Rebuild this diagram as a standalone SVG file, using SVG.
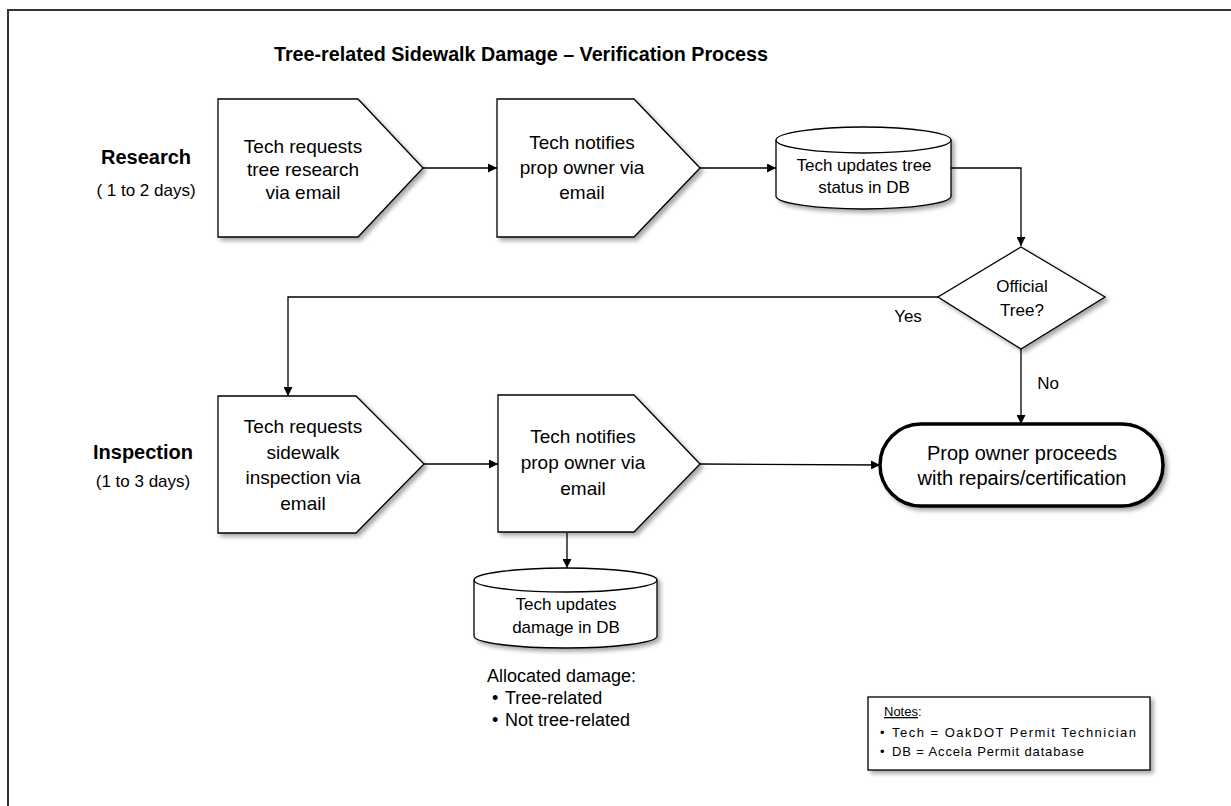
<svg xmlns="http://www.w3.org/2000/svg" width="1231" height="806" viewBox="0 0 1231 806">
<defs>
<style>
.t{font-family:"Liberation Sans",Arial,sans-serif;fill:#000;}
.box{fill:#fff;stroke:#000;stroke-width:1.3;filter:url(#sh);}
.ln{fill:none;stroke:#000;stroke-width:1.3;}
.b18{font-size:19px;text-anchor:middle;}
.c16{font-size:17px;text-anchor:middle;}
.nt{font-size:13px;}
</style>
<filter id="sh" x="-10%" y="-10%" width="130%" height="130%">
<feDropShadow dx="3" dy="3" stdDeviation="2" flood-color="#000" flood-opacity="0.35"/>
</filter>
<marker id="ah" viewBox="0 0 10 10" refX="10" refY="5" markerWidth="9" markerHeight="9" markerUnits="userSpaceOnUse" orient="auto">
<path d="M0,0 L10,5 L0,10 z" fill="#000"/>
</marker>
</defs>
<rect width="1231" height="806" fill="#fff"/>
<path d="M8,806 V10 H1231" fill="none" stroke="#333" stroke-width="2"/>

<text class="t" x="521" y="61" font-size="21" font-weight="bold" text-anchor="middle" textLength="494" lengthAdjust="spacingAndGlyphs">Tree-related Sidewalk Damage – Verification Process</text>

<g id="lane-research">
<text class="t" x="146" y="164" font-size="20" font-weight="bold" text-anchor="middle">Research</text>
<text class="t" x="146" y="196" font-size="17" text-anchor="middle">( 1 to 2 days)</text>
</g>
<g id="lane-inspection">
<text class="t" x="143" y="459" font-size="20" font-weight="bold" text-anchor="middle">Inspection</text>
<text class="t" x="143" y="487" font-size="17" text-anchor="middle">(1 to 3 days)</text>
</g>

<g id="connectors">
<line class="ln" x1="423" y1="168" x2="497" y2="168" marker-end="url(#ah)"/>
<line class="ln" x1="700" y1="168" x2="776" y2="168" marker-end="url(#ah)"/>
<polyline class="ln" points="951,168 1021,168 1021,246" marker-end="url(#ah)"/>
<polyline class="ln" points="938,297 288,297 288,396" marker-end="url(#ah)"/>
<line class="ln" x1="1021" y1="349" x2="1021" y2="424" marker-end="url(#ah)"/>
<line class="ln" x1="424" y1="464" x2="498" y2="464" marker-end="url(#ah)"/>
<line class="ln" x1="700" y1="464" x2="880" y2="465" marker-end="url(#ah)"/>
<line class="ln" x1="567" y1="533" x2="567" y2="568" marker-end="url(#ah)"/>
<text class="t" x="908" y="322" font-size="17" text-anchor="middle">Yes</text>
<text class="t" x="1048" y="389" font-size="17" text-anchor="middle">No</text>
</g>

<g id="n1">
<path class="box" d="M218,99 H358 L423,168 L358,237 H218 Z"/>
<text class="t b18" x="303" y="153">Tech requests</text>
<text class="t b18" x="303" y="176">tree research</text>
<text class="t b18" x="303" y="199">via email</text>
</g>

<g id="n2">
<path class="box" d="M497,99 H634 L700,168 L634,237 H497 Z"/>
<text class="t b18" x="582" y="149">Tech notifies</text>
<text class="t b18" x="582" y="174">prop owner via</text>
<text class="t b18" x="582" y="199">email</text>
</g>

<g id="n3">
<path class="box" d="M776,140 A87.5,13 0 0 1 951,140 V196 A87.5,13 0 0 1 776,196 Z"/>
<path class="ln" d="M776,140 A87.5,13 0 0 0 951,140"/>
<text class="t c16" x="864" y="171">Tech updates tree</text>
<text class="t c16" x="864" y="193">status in DB</text>
</g>

<g id="n4">
<path class="box" d="M1021,247 L1105,297 L1021,349 L938,297 Z"/>
<text class="t c16" x="1022" y="292">Official</text>
<text class="t c16" x="1022" y="316">Tree?</text>
</g>

<g id="n5">
<path class="box" d="M218,396 H356 L424,464 L356,533 H218 Z"/>
<text class="t b18" x="303" y="433">Tech requests</text>
<text class="t b18" x="303" y="459">sidewalk</text>
<text class="t b18" x="303" y="484">inspection via</text>
<text class="t b18" x="303" y="510">email</text>
</g>

<g id="n6">
<path class="box" d="M498,395 H634 L700,464 L634,532 H498 Z"/>
<text class="t b18" x="583" y="443">Tech notifies</text>
<text class="t b18" x="583" y="469">prop owner via</text>
<text class="t b18" x="583" y="495">email</text>
</g>

<g id="n7">
<rect x="880" y="424" width="283" height="82" rx="41" ry="41" fill="#fff" stroke="#000" stroke-width="3.5" filter="url(#sh)"/>
<text class="t" x="1022" y="460" font-size="20" text-anchor="middle">Prop owner proceeds</text>
<text class="t" x="1022" y="485" font-size="20" text-anchor="middle">with repairs/certification</text>
</g>

<g id="n8">
<path class="box" d="M474,580 A91.5,12 0 0 1 657,580 V636 A91.5,12 0 0 1 474,636 Z"/>
<path class="ln" d="M474,580 A91.5,12 0 0 0 657,580"/>
<text class="t c16" x="566" y="610">Tech updates</text>
<text class="t c16" x="566" y="633">damage in DB</text>
</g>

<g id="allocated">
<text class="t" x="487" y="682" font-size="18">Allocated damage:</text>
<text class="t" x="492" y="704" font-size="18">•</text>
<text class="t" x="505" y="704" font-size="18">Tree-related</text>
<text class="t" x="492" y="726" font-size="18">•</text>
<text class="t" x="505" y="726" font-size="18">Not tree-related</text>
</g>

<g id="notes">
<rect x="868" y="697" width="282" height="73" fill="#fff" stroke="#000" stroke-width="1.3" filter="url(#sh)"/>
<text class="t nt" x="884" y="716"><tspan text-decoration="underline">Notes</tspan>:</text>
<text class="t nt" x="880" y="737">•</text>
<text class="t nt" x="892" y="737" textLength="244" lengthAdjust="spacing">Tech = OakDOT Permit Technician</text>
<text class="t nt" x="880" y="756">•</text>
<text class="t nt" x="892" y="756" textLength="192" lengthAdjust="spacing">DB = Accela Permit database</text>
</g>
</svg>
